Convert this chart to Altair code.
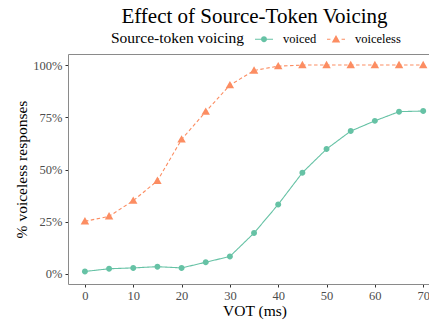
import altair as alt
import pandas as pd

# ---- data ----
vot = [0, 5, 10, 15, 20, 25, 30, 35, 40, 45, 50, 55, 60, 65, 70]
voiced = [1.2, 2.5, 2.9, 3.5, 2.9, 5.6, 8.4, 19.6, 33.3, 48.5, 59.8, 68.4, 73.3, 77.7, 78.0]
voiceless = [25.2, 27.6, 35.1, 44.6, 64.4, 77.7, 90.4, 97.4, 99.5, 100, 100, 100, 100, 100, 100]
groups = ["voiced", "voiceless"]
colors = ["#66c2a5", "#fc8d62"]
y_ticks = [0, 25, 50, 75, 100]
x_ticks = [0, 10, 20, 30, 40, 50, 60, 70]

df = pd.DataFrame({
    "vot": vot + vot,
    "pct": voiced + voiceless,
    "voicing": ["voiced"] * len(vot) + ["voiceless"] * len(vot),
})

FONT = "Liberation Serif"
BORDER = "#8a8a8a"
W, H = 361, 230
X_DOM = [-3.5, 71.2]
Y_DOM = [-4.8, 105.3]

# marker symbols (unit box -1..1, scaled by sqrt(size)/2)
CIRCLE = "M0.33,0A0.33,0.33,0,1,1,-0.33,0A0.33,0.33,0,1,1,0.33,0Z"
TRIANGLE = "M0,-0.47L0.47,0.35L-0.47,0.35Z"
# legend keys: line segment + marker (like ggplot keys)
KEY_SOLID = "M-1,-0.06H1V0.06H-1Z " + CIRCLE
KEY_DASHED = ("M-1,-0.06H-0.62V0.06H-1Z M0.62,-0.06H1V0.06H0.62Z " + TRIANGLE)

color_scale = alt.Scale(domain=groups, range=colors)
xs = alt.Scale(domain=X_DOM, nice=False, zero=False)
ys = alt.Scale(domain=Y_DOM, nice=False, zero=False)

x_axis = alt.Axis(
    values=x_ticks, title="VOT (ms)", titleFont=FONT, titleFontSize=15.5,
    titleFontWeight="normal", titleColor="black", titleX=186.5, titleY=31,
    titleAnchor="middle", titleAlign="center", titleBaseline="alphabetic",
    labelFont=FONT, labelFontSize=12.5, labelColor="#4d4d4d", labelPadding=2,
    tickSize=3, tickColor="#333333", domainColor=BORDER, grid=False,
)
y_axis = alt.Axis(
    values=y_ticks, labelExpr="datum.value + '%'", title="% voiceless responses",
    titleFont=FONT, titleFontSize=15.5, titleFontWeight="normal", titleColor="black",
    titleX=-47, titleY=115, titleAngle=270, titleAlign="center", titleBaseline="middle",
    labelFont=FONT, labelFontSize=12.5, labelColor="#4d4d4d", labelPadding=3,
    tickSize=3, tickColor="#333333", domainColor=BORDER, grid=False,
)

lines = alt.Chart(df).mark_line(strokeWidth=1.1).encode(
    x=alt.X("vot:Q", scale=xs, axis=x_axis),
    y=alt.Y("pct:Q", scale=ys, axis=y_axis),
    color=alt.Color("voicing:N", scale=color_scale, legend=None),
    strokeDash=alt.StrokeDash("voicing:N",
                              scale=alt.Scale(domain=groups, range=[[1, 0], [3.5, 2.5]]),
                              legend=None),
)

points = alt.Chart(df).mark_point(filled=True, size=324, opacity=1, strokeWidth=0).encode(
    x=alt.X("vot:Q", scale=xs,
            axis=alt.Axis(orient="top", labels=False, ticks=False, title=None,
                          domainColor=BORDER, grid=False)),
    y=alt.Y("pct:Q", scale=ys, axis=y_axis),
    color=alt.Color("voicing:N", scale=color_scale, legend=None),
    shape=alt.Shape("voicing:N", scale=alt.Scale(domain=groups, range=[CIRCLE, TRIANGLE]),
                    legend=None),
)

leg = alt.Legend(
    orient="none", legendX=43, legendY=-24, direction="horizontal",
    title="Source-token voicing", titleOrient="left", titlePadding=10,
    titleFont=FONT, titleFontSize=15.5, titleFontWeight="normal", titleColor="black",
    titleBaseline="middle",
    labelFont=FONT, labelFontSize=12.5, labelColor="black", labelOffset=10,
    columnPadding=10, padding=0, symbolSize=324, symbolStrokeWidth=0, symbolOpacity=1,
)

# legend-only layer (no rows drawn; entries come from the scale domain)
legend_layer = alt.Chart(df).transform_filter("false").mark_point(
    filled=True, size=324, strokeWidth=0
).encode(
    color=alt.Color("voicing:N", scale=color_scale, legend=leg),
    shape=alt.Shape("voicing:N", scale=alt.Scale(domain=groups, range=[KEY_SOLID, KEY_DASHED]),
                    legend=leg),
)

chart = alt.layer(lines, points, legend_layer).resolve_axis(
    x="independent"
).resolve_scale(
    shape="independent"
).resolve_legend(
    color="independent", shape="independent"
).properties(
    width=W, height=H,
    title=alt.TitleParams("Effect of Source-Token Voicing", font=FONT, fontSize=21,
                          fontWeight="normal", color="black", anchor="middle",
                          frame="group", dx=6, offset=3),
    autosize=alt.AutoSizeParams(type="none"),
    padding={"left": 68, "top": 54, "right": 0, "bottom": 38},
    background="white",
).configure(
    font=FONT
).configure_view(stroke=None)

chart.save("out.html", embed_options={"renderer": "svg", "actions": False})
